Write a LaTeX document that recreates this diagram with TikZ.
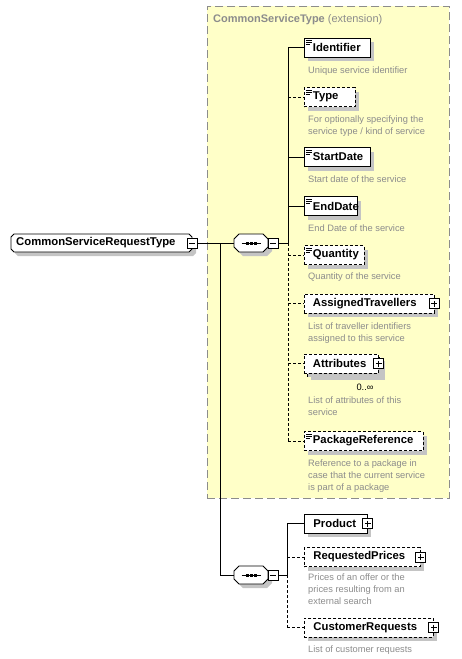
\documentclass[tikz,border=0pt]{standalone}
\usepackage{fontspec}
\setmainfont{Liberation Sans}
\usetikzlibrary{shadows}

% name inside an element box, left aligned in a box of fixed width
\newcommand{\elname}[2]{\makebox[#1pt][l]{\hspace{9pt}#2}}
% octagon outline with its shadow: x1, y1, x2, y2, cut
\newcommand{\octpath}[5]{(#1+#5,#2) -- (#3-#5,#2) -- (#3,#2+#5) -- (#3,#4-#5) -- (#3-#5,#4) -- (#1+#5,#4) -- (#1,#4-#5) -- (#1,#2+#5) -- cycle}
\newcommand{\octbox}[5]{%
  \fill[shadowGray, shift={(4,4)}] \octpath{#1}{#2}{#3}{#4}{#5};
  \filldraw[fill=white, line width=0.9pt] \octpath{#1}{#2}{#3}{#4}{#5};}

\tikzset{
  shade box/.style={drop shadow={shadow xshift=4pt, shadow yshift=-4pt, fill=shadowGray, opacity=1}},
  elem/.style={draw, fill=white, line width=0.9pt, anchor=west, inner sep=0pt,
    minimum height=19pt, shade box, font=\bfseries\fontsize{11.3}{13}\selectfont},
  optelem/.style={elem, dash pattern=on 3pt off 2pt},
  simple/.style={path picture={
    \draw[solid, line width=0.7pt]
      ([xshift=2pt,yshift=-2.5pt]path picture bounding box.north west) -- +(6pt,0)
      ([xshift=2pt,yshift=-4.5pt]path picture bounding box.north west) -- +(6pt,0)
      ([xshift=2pt,yshift=-6.5pt]path picture bounding box.north west) -- +(4pt,0);}},
  pmbox/.style={draw, solid, fill=white, line width=1pt, minimum size=10pt, inner sep=0pt},
  minusbox/.style={pmbox, path picture={
    \draw[line width=1pt] ([xshift=2pt]path picture bounding box.west) -- ([xshift=-2pt]path picture bounding box.east);}},
  plusbox/.style={pmbox, path picture={
    \draw[line width=1pt] ([xshift=2pt]path picture bounding box.west) -- ([xshift=-2pt]path picture bounding box.east)
      ([yshift=-2pt]path picture bounding box.north) -- ([yshift=2pt]path picture bounding box.south);}},
  octnode/.style={anchor=west, inner sep=0pt, minimum height=18pt},
  desc/.style={anchor=base west, align=left, inner sep=0pt, text=descGray, font=\fontsize{9.3}{12}\selectfont},
  link/.style={line width=0.9pt},
  optlink/.style={link, dash pattern=on 3pt off 2pt},
  extbox/.style={draw=extBorder, fill=extFill, line width=0.9pt, dash pattern=on 8pt off 4pt,
    anchor=north west, inner sep=0pt, minimum width=242pt, minimum height=492pt}
}

\begin{document}
\begin{tikzpicture}[x=1pt,y=-1pt]

% colours
\definecolor{extFill}{HTML}{FFFFC8}
\definecolor{extBorder}{HTML}{8C8C8C}
\definecolor{descGray}{HTML}{8C8C8C}
\definecolor{shadowGray}{HTML}{C4C4C4}

\useasboundingbox (0,0) rectangle (461,659);

% extension frame
\node[extbox] (ext) at (207,6) {};
\node[anchor=base west, inner sep=0pt, text=extBorder, font=\fontsize{11}{13}\selectfont] (extTitle) at (213,22)
  {\textbf{CommonServiceType} (extension)};

% root and compositors
\octbox{11}{234}{192}{252}{3}
\node[octnode, minimum width=181pt, font=\bfseries\fontsize{11.3}{13}\selectfont] (root) at (11,243)
  {\makebox[181pt][l]{\hspace{5pt}CommonServiceRequestType}};
\node[minusbox] (rootm) at (root.east) {};

\octbox{234}{234}{268}{252}{5}
\node[octnode, minimum width=34pt] (seqA) at (234,243) {};
\node[minusbox, anchor=west] (seqAm) at ([xshift=-0.5pt]seqA.east) {};

\octbox{234}{566}{268}{584}{5}
\node[octnode, minimum width=34pt] (seqB) at (234,575) {};
\node[minusbox, anchor=west] (seqBm) at ([xshift=-0.5pt]seqB.east) {};

% sequence marks
\foreach \s in {seqA,seqB} {
  \draw[line width=0.9pt] ([xshift=-9.5pt]\s.center) -- ([xshift=9.5pt]\s.center);
  \foreach \d in {-4,0,4}
    \fill ([xshift=\d pt]\s.center) +(-1.5pt,-1.5pt) rectangle +(1.5pt,1.5pt);
}

% elements of CommonServiceType
\node[elem, simple] (ident) at (303.5,47.5) {\elname{66}{Identifier}};
\node[desc] (identDesc) at (308,73) {Unique service identifier};

\node[optelem, simple] (type) at (303.5,97) {\elname{51}{Type}};
\node[desc] (typeDesc) at (308,134) {For optionally specifying the\\service type / kind of service};

\node[elem, simple] (start) at (303.5,157) {\elname{66}{StartDate}};
\node[desc] (startDesc) at (308,182) {Start date of the service};

\node[elem, simple] (end) at (303.5,206) {\elname{53}{EndDate}};
\node[desc] (endDesc) at (308,231) {End Date of the service};

\node[optelem, simple] (qty) at (303.5,255) {\elname{60}{Quantity}};
\node[desc] (qtyDesc) at (308,279) {Quantity of the service};

\node[optelem] (trav) at (303.5,303.5) {\elname{130}{AssignedTravellers}};
\node[plusbox] (travp) at (trav.east) {};
\node[desc] (travDesc) at (308,341) {List of traveller identifiers\\assigned to this service};

\node[optelem] (attrBack) at (306.5,366.5) {\elname{74.5}{}};
\node[optelem, drop shadow={opacity=0}] (attr) at (303.5,363.5) {\elname{74.5}{Attributes}};
\node[plusbox] (attrp) at (attr.east) {};
\node[inner sep=0pt, font=\fontsize{9.3}{12}\selectfont] (attrOcc) at (365,387) {0..∞};
\node[desc] (attrDesc) at (308,415.5) {List of attributes of this\\service};

\node[optelem, simple] (pkg) at (303.5,441) {\elname{119}{PackageReference}};
\node[desc] (pkgDesc) at (308,490) {Reference to a package in\\case that the current service\\is part of a package};

% elements of the request
\node[elem] (product) at (304,523.5) {\elname{63}{Product}};
\node[plusbox] (productp) at (product.east) {};

\node[optelem] (reqPrices) at (304,557) {\elname{116}{RequestedPrices}};
\node[plusbox] (reqPricesp) at (reqPrices.east) {};
\node[desc] (reqPricesDesc) at (308,604) {Prices of an offer or the\\prices resulting from an\\external search};

\node[optelem] (custReq) at (304,627.5) {\elname{129}{CustomerRequests}};
\node[plusbox] (custReqp) at (custReq.east) {};
\node[desc] (custReqDesc) at (308,652) {List of customer requests};

% connectors
\coordinate (trunk) at (220,243);
\draw[link] (rootm.east) -- (seqA.west);
\draw[link] (trunk) |- (seqB.west);

\coordinate (spineA) at (288,243);
\draw[link] (seqAm.east) -- (spineA) -- (spineA |- ident.west);
\draw[optlink] (spineA) -- (spineA |- pkg.west);
\foreach \n in {ident,start,end}
  \draw[link] (spineA |- \n.west) -- (\n.west);
\foreach \n in {type,qty,trav,attr,pkg}
  \draw[optlink] (spineA |- \n.west) -- (\n.west);

\coordinate (spineB) at (287,575);
\draw[link] (seqBm.east) -- (spineB) -- (spineB |- product.west);
\draw[optlink] (spineB) -- (spineB |- custReq.west);
\draw[link] (spineB |- product.west) -- (product.west);
\foreach \n in {reqPrices,custReq}
  \draw[optlink] (spineB |- \n.west) -- (\n.west);

\end{tikzpicture}
\end{document}
